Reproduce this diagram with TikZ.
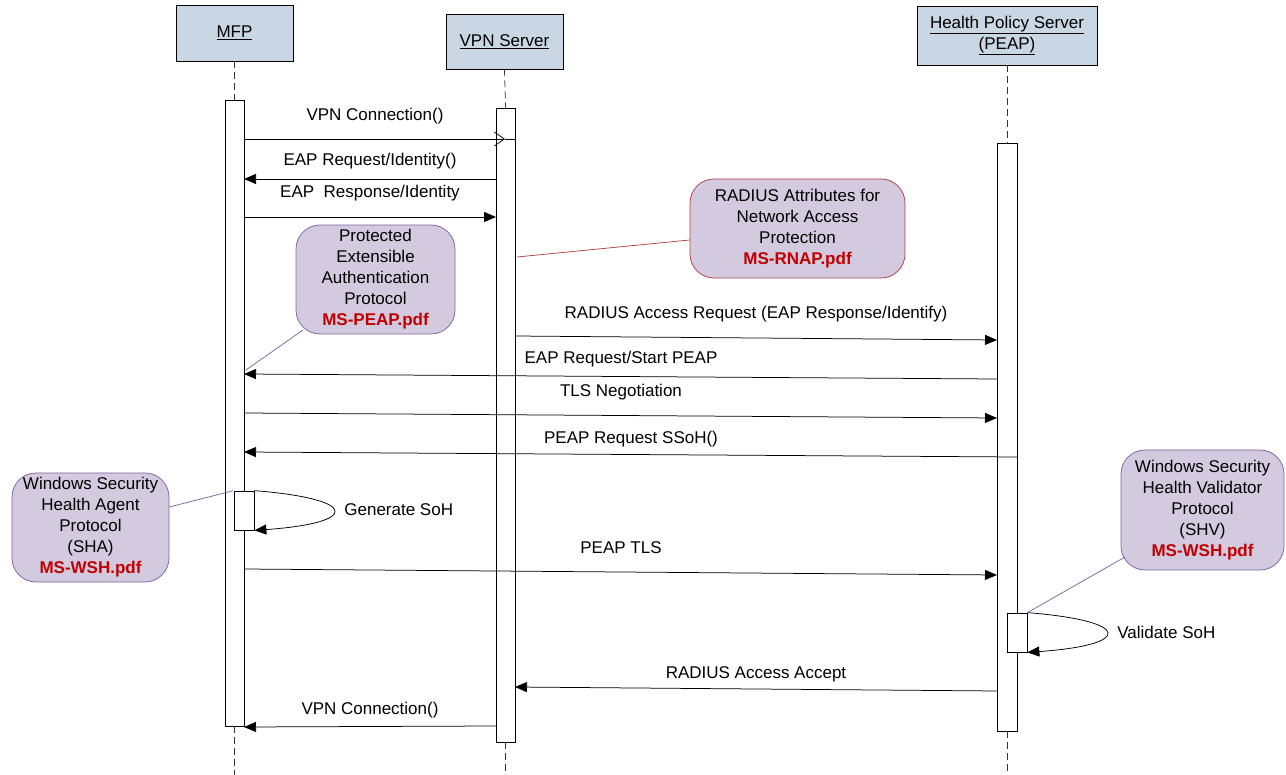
\documentclass[tikz,border=0pt]{standalone}
\usepackage{fontspec}
\setmainfont{Liberation Sans}
\usetikzlibrary{arrows.meta}
\definecolor{headfill}{HTML}{C9D6E4}
\definecolor{notefill}{HTML}{D3CADF}
\definecolor{noteline}{HTML}{8064A2}
\definecolor{rednote}{HTML}{B04040}
\definecolor{pdfred}{HTML}{C00000}
\tikzset{
  head/.style={draw, line width=0.9pt, fill=headfill, align=center, inner sep=0pt},
  actbar/.style={draw, fill=white, minimum width=19pt, inner sep=0pt},
  selfbox/.style={draw, fill=white, minimum width=20pt, minimum height=39pt, inner sep=0pt},
  note/.style={draw=noteline, fill=notefill, rounded corners=24pt, align=center, inner sep=0pt},
  lifeline/.style={draw=black!80, dash pattern=on 7pt off 4pt},
  msg/.style={draw, -{Triangle[length=12pt,width=10pt]}},
  openmsg/.style={draw, -{Straight Barb[length=10pt,width=14pt]}},
  lbl/.style={inner sep=0pt, anchor=center}
}
\newcommand{\pdfname}[1]{{\color{pdfred}\bfseries #1}}
\begin{document}
\begin{tikzpicture}[x=1pt,y=-1pt,font=\fontsize{17}{21}\selectfont, line width=0.75pt]
\useasboundingbox (0,0) rectangle (1286,775);
% headers
\node[head, minimum width=117pt, minimum height=56pt] (mfp) at (234.5,33) {\underline{MFP}};
\node[head, minimum width=117pt, minimum height=55pt] (vpn) at (504.5,41.5) {\underline{VPN Server}};
\node[head, minimum width=180pt, minimum height=59pt] (hps) at (1007,35.5) {\underline{Health Policy Server}\\\underline{(PEAP)}};
% activation bars
\node[actbar, minimum height=626pt] (mfpbar) at (234.5,413) {};
\node[actbar, minimum height=634pt] (vpnbar) at (505.5,425) {};
\node[actbar, minimum width=20pt, minimum height=588pt] (hpsbar) at (1007,437) {};
% lifelines
\coordinate (mfpend) at (234.5,775);
\coordinate (vpnend) at (505.5,775);
\coordinate (hpsend) at (1007,775);
\draw[lifeline] (mfp.south) -- (mfpbar.north);
\draw[lifeline] (mfpbar.south) -- (mfpend);
\draw[lifeline] (vpn.south) -- (vpnbar.north);
\draw[lifeline] (vpnbar.south) -- (vpnend);
\draw[lifeline] (hps.south) -- (hpsbar.north);
\draw[lifeline] (hpsbar.south) -- (hpsend);
% self activation boxes
\node[selfbox] (shabox) at (244,510.5) {};
\node[selfbox] (shvbox) at (1017,632.5) {};
% message endpoints
\coordinate (m1a) at (244,139); \coordinate (m1b) at (505,139); \coordinate (m1c) at (515,139);
\coordinate (m2a) at (496,179); \coordinate (m2b) at (244,179);
\coordinate (m3a) at (244,217); \coordinate (m3b) at (496,217);
\coordinate (m4a) at (515,336); \coordinate (m4b) at (997,340);
\coordinate (m5a) at (997,379); \coordinate (m5b) at (244,374);
\coordinate (m6a) at (244,413); \coordinate (m6b) at (997,418);
\coordinate (m7a) at (1017,457); \coordinate (m7b) at (244,452);
\coordinate (m9a) at (244,569); \coordinate (m9b) at (997,575);
\coordinate (m11a) at (997,691); \coordinate (m11b) at (515,687);
\coordinate (m12a) at (496,726); \coordinate (m12b) at (244,727);
% messages
\draw[openmsg] (m1a) -- (m1b);
\draw (m1b) -- (m1c);
\node[lbl] (t1) at (375,116) {VPN Connection()};
\draw[msg] (m2a) -- (m2b);
\node[lbl] (t2) at (370,161) {EAP Request/Identity()};
\draw[msg] (m3a) -- (m3b);
\node[lbl] (t3) at (370,193) {EAP\ \ Response/Identity};
\draw[msg] (m4a) -- (m4b);
\node[lbl] (t4) at (756,314) {RADIUS Access Request (EAP Response/Identify)};
\draw[msg] (m5a) -- (m5b);
\node[lbl] (t5) at (621,359) {EAP Request/Start PEAP};
\draw[msg] (m6a) -- (m6b);
\node[lbl] (t6) at (621,392) {TLS Negotiation};
\draw[msg] (m7a) -- (m7b);
\node[lbl] (t7) at (631,439) {PEAP Request SSoH()};
\draw[msg] (m9a) -- (m9b);
\node[lbl] (t9) at (621,548) {PEAP TLS};
\draw[msg] (m11a) -- (m11b);
\node[lbl] (t11) at (756,674) {RADIUS Access Accept};
\draw[msg] (m12a) -- (m12b);
\node[lbl] (t12) at (370,710) {VPN Connection()};
% self loops
\draw[-{Triangle[length=12pt,width=10pt]}] (shabox.north east) .. controls (360,499) and (360,523) .. (shabox.south east);
\node[lbl, anchor=west] (t8) at (344,510) {Generate SoH};
\draw[-{Triangle[length=12pt,width=10pt]}] (shvbox.north east) .. controls (1133,621) and (1133,645) .. (shvbox.south east);
\node[lbl, anchor=west] (t10) at (1117,632) {Validate SoH};
% notes
\node[note, draw=rednote, minimum width=215pt, minimum height=99pt] (rnap) at (797.5,228.5)
  {RADIUS Attributes for\\Network Access\\Protection\\\pdfname{MS-RNAP.pdf}};
\node[note, minimum width=159pt, minimum height=109pt] (peap) at (375.5,279.5)
  {Protected\\Extensible\\Authentication\\Protocol\\\pdfname{MS-PEAP.pdf}};
\node[note, minimum width=157pt, minimum height=109pt] (sha) at (90.5,527.5)
  {Windows Security\\Health Agent\\Protocol\\(SHA)\\\pdfname{MS-WSH.pdf}};
\node[note, minimum width=163pt, minimum height=120pt] (shv) at (1202.5,510)
  {Windows Security\\Health Validator\\Protocol\\(SHV)\\\pdfname{MS-WSH.pdf}};
% note connectors
\coordinate (rnapend) at (517,257);
\coordinate (peapend) at (246,370);
\draw[rednote] (rnap.west |- 0,240) -- (rnapend);
\draw[noteline] (303,330) -- (peapend);
\draw[noteline] (sha.east |- 0,507) -- (shabox.north west);
\draw[noteline] (1125,557) -- (shvbox.north east);
\end{tikzpicture}
\end{document}
